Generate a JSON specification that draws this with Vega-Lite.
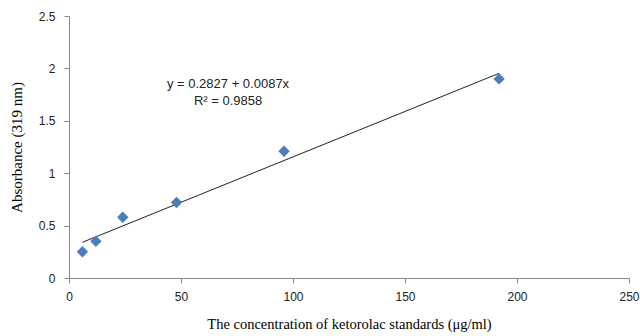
{
  "$schema": "https://vega.github.io/schema/vega-lite/v6.json",
  "autosize": "none",
  "width": 560,
  "height": 262,
  "padding": {"left": 69, "top": 16, "right": 11, "bottom": 58},
  "background": "white",
  "config": {"view": {"stroke": null}},
  "data": {
    "values": [
      {"conc": 6, "abs": 0.25},
      {"conc": 12, "abs": 0.35},
      {"conc": 24, "abs": 0.58},
      {"conc": 48, "abs": 0.72},
      {"conc": 96, "abs": 1.21},
      {"conc": 192, "abs": 1.9}
    ]
  },
  "layer": [
    {
      "transform": [{"regression": "abs", "on": "conc", "method": "linear"}],
      "mark": {"type": "line", "color": "#222222", "strokeWidth": 1},
      "encoding": {
        "x": {"field": "conc", "type": "quantitative"},
        "y": {"field": "abs", "type": "quantitative"}
      }
    },
    {
      "mark": {"type": "point", "shape": "diamond", "filled": true, "color": "#4A7EBB", "opacity": 1, "size": 130},
      "encoding": {
        "x": {
          "field": "conc",
          "type": "quantitative",
          "scale": {"domain": [0, 250], "nice": false, "zero": true},
          "axis": {
            "title": "The concentration of ketorolac standards (μg/ml)",
            "titleFont": "Liberation Serif",
            "titleFontSize": 14.5,
            "titleFontWeight": "normal",
            "titleColor": "#000000",
            "titlePadding": 15,
            "values": [0, 50, 100, 150, 200, 250],
            "format": "~r",
            "grid": false,
            "domainColor": "#888888",
            "tickColor": "#888888",
            "tickSize": 5,
            "labelFont": "Liberation Sans",
            "labelFontSize": 12,
            "labelColor": "#222222",
            "labelPadding": 8,
            "labelFlush": false
          }
        },
        "y": {
          "field": "abs",
          "type": "quantitative",
          "scale": {"domain": [0, 2.5], "nice": false},
          "axis": {
            "title": "Absorbance (319 nm)",
            "titleFont": "Liberation Serif",
            "titleFontSize": 15,
            "titleFontWeight": "normal",
            "titleColor": "#000000",
            "titlePadding": 14,
            "values": [0, 0.5, 1, 1.5, 2, 2.5],
            "format": ".1~f",
            "grid": false,
            "domainColor": "#888888",
            "tickColor": "#888888",
            "tickSize": 5,
            "labelFont": "Liberation Sans",
            "labelFontSize": 12,
            "labelColor": "#222222",
            "labelPadding": 9
          }
        }
      }
    },
    {
      "data": {"values": [{"eq": "y = 0.2827 + 0.0087x"}]},
      "mark": {
        "type": "text",
        "text": ["y = 0.2827 + 0.0087x", "R² = 0.9858"],
        "font": "Liberation Sans",
        "fontSize": 13,
        "lineHeight": 17,
        "align": "center",
        "baseline": "middle",
        "color": "#222222"
      },
      "encoding": {
        "x": {"datum": 71},
        "y": {"datum": 1.85}
      }
    }
  ]
}
